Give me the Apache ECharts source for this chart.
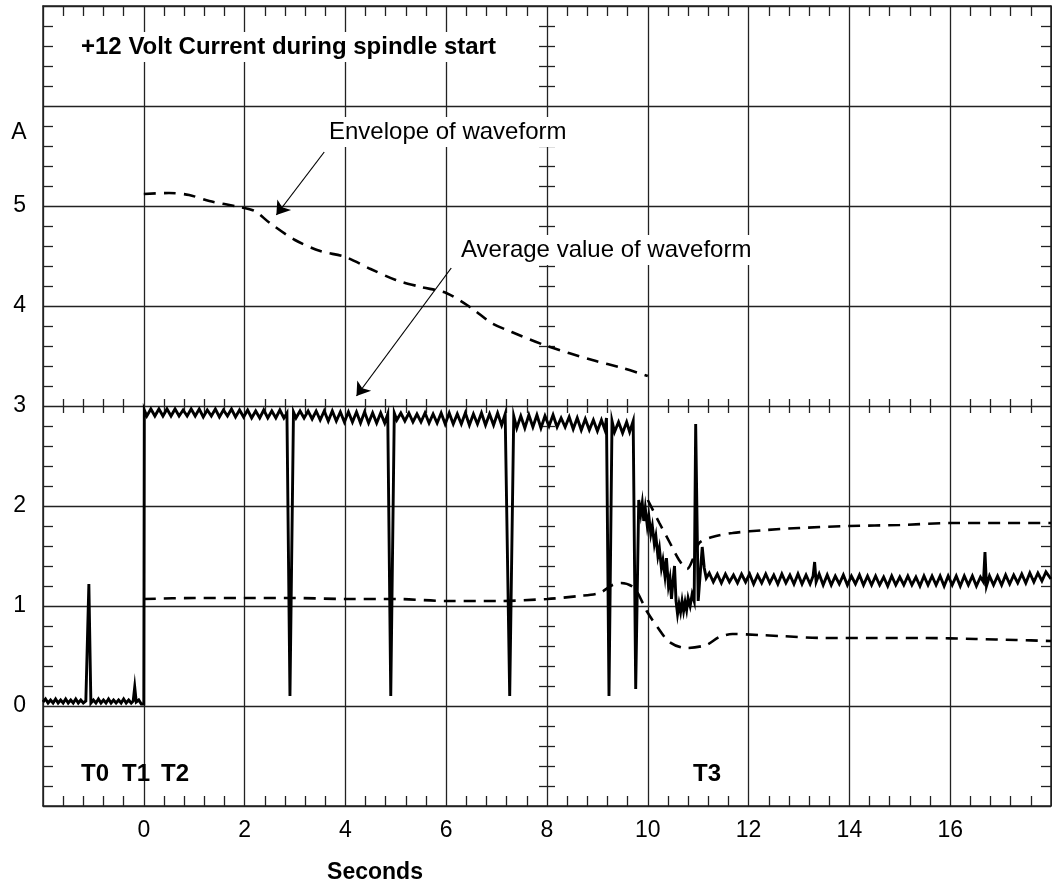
<!DOCTYPE html>
<html>
<head>
<meta charset="utf-8">
<script src="https://cdn.jsdelivr.net/npm/echarts@6/dist/echarts.min.js"></script>
<style>
html,body{margin:0;padding:0;background:#fff;}
#chart{width:1052px;height:884px;}
</style>
</head>
<body>
<div id="chart"></div>
<script>
// ---- Data (seconds, amperes) ----
const preStart = [[-2.00,0.04],[-1.95,0.07],[-1.90,0.03],[-1.85,0.06],[-1.80,0.03],[-1.75,0.07],[-1.70,0.03],[-1.65,0.06],[-1.60,0.03],[-1.55,0.07],[-1.50,0.03],[-1.45,0.06],[-1.40,0.03],[-1.35,0.07],[-1.30,0.03],[-1.25,0.06],[-1.20,0.03],[-1.15,0.05],[-1.12,0.04],[-1.09,1.22],[-1.05,0.03],[-1.00,0.06],[-0.95,0.03],[-0.90,0.07],[-0.85,0.03],[-0.80,0.06],[-0.75,0.03],[-0.70,0.07],[-0.65,0.03],[-0.60,0.06],[-0.55,0.03],[-0.50,0.06],[-0.45,0.03],[-0.40,0.07],[-0.35,0.03],[-0.30,0.06],[-0.25,0.03],[-0.21,0.05],[-0.18,0.19],[-0.15,0.04],[-0.10,0.06],[-0.05,0.02],[0.00,0.02]];
const run1 = [[0.01,2.96],[0.06,2.90],[0.14,2.97],[0.22,2.90],[0.30,2.97],[0.38,2.90],[0.46,2.97],[0.54,2.90],[0.62,2.97],[0.70,2.90],[0.78,2.96],[0.86,2.90],[0.94,2.97],[1.02,2.90],[1.10,2.97],[1.18,2.89],[1.26,2.96],[1.34,2.90],[1.42,2.97],[1.50,2.89],[1.58,2.96],[1.66,2.90],[1.74,2.97],[1.82,2.89],[1.90,2.96],[1.98,2.89],[2.06,2.96],[2.14,2.88],[2.22,2.95],[2.30,2.88],[2.38,2.96],[2.46,2.88],[2.54,2.95],[2.62,2.88],[2.70,2.96],[2.78,2.88],[2.84,2.93],[2.90,0.10],[2.97,2.94]];
const run2 = [[3.02,2.88],[3.10,2.95],[3.18,2.88],[3.26,2.95],[3.34,2.87],[3.42,2.95],[3.50,2.86],[3.58,2.95],[3.66,2.85],[3.74,2.95],[3.82,2.85],[3.90,2.94],[3.98,2.84],[4.06,2.94],[4.14,2.84],[4.22,2.94],[4.30,2.83],[4.38,2.94],[4.46,2.83],[4.54,2.93],[4.62,2.83],[4.70,2.93],[4.78,2.83],[4.84,2.92],[4.90,0.10],[4.97,2.93]];
const run3 = [[5.02,2.86],[5.10,2.93],[5.18,2.85],[5.26,2.93],[5.34,2.84],[5.42,2.92],[5.50,2.84],[5.58,2.93],[5.66,2.83],[5.74,2.92],[5.82,2.83],[5.90,2.93],[5.98,2.82],[6.06,2.93],[6.14,2.82],[6.22,2.92],[6.30,2.82],[6.38,2.93],[6.46,2.81],[6.54,2.92],[6.62,2.82],[6.70,2.93],[6.78,2.81],[6.86,2.92],[6.94,2.81],[7.02,2.93],[7.10,2.81],[7.17,2.92],[7.26,0.10],[7.34,2.90]];
const run4 = [[7.40,2.78],[7.48,2.90],[7.56,2.78],[7.64,2.91],[7.72,2.79],[7.80,2.91],[7.88,2.78],[7.96,2.90],[8.04,2.80],[8.12,2.91],[8.20,2.79],[8.28,2.88],[8.36,2.79],[8.44,2.89],[8.52,2.77],[8.60,2.88],[8.68,2.76],[8.76,2.87],[8.84,2.76],[8.92,2.86],[9.00,2.75],[9.08,2.86],[9.15,2.76],[9.18,2.88],[9.23,0.10],[9.29,2.85]];
const run5 = [[9.34,2.74],[9.42,2.84],[9.50,2.73],[9.58,2.84],[9.64,2.74],[9.71,2.85],[9.76,0.17],[9.82,2.06]];
const transient = [[9.86,1.92],[9.89,2.03],[9.92,1.85],[9.95,1.98],[9.99,1.80],[10.02,1.90],[10.06,1.72],[10.09,1.80],[10.13,1.62],[10.16,1.70],[10.20,1.50],[10.23,1.58],[10.27,1.38],[10.30,1.46],[10.34,1.30],[10.37,1.48],[10.41,1.20],[10.44,1.28],[10.47,1.07],[10.50,1.25],[10.53,1.40],[10.56,1.05],[10.59,0.92],[10.62,1.02],[10.65,0.94],[10.68,1.05],[10.71,0.95],[10.74,1.04],[10.77,0.96],[10.80,1.08],[10.84,1.00],[10.88,1.12],[10.92,1.05],[10.95,2.82],[11.00,1.05],[11.03,1.03],[11.08,1.59],[11.12,1.38]];
const tail = [[11.16,1.28],[11.22,1.33],[11.30,1.24],[11.38,1.32],[11.46,1.23],[11.54,1.32],[11.62,1.24],[11.70,1.31],[11.78,1.23],[11.86,1.32],[11.94,1.24],[12.02,1.32],[12.10,1.22],[12.18,1.31],[12.26,1.23],[12.34,1.32],[12.42,1.23],[12.50,1.31],[12.58,1.22],[12.66,1.32],[12.74,1.23],[12.82,1.31],[12.90,1.22],[12.98,1.32],[13.06,1.22],[13.14,1.31],[13.22,1.22],[13.28,1.30],[13.31,1.44],[13.34,1.24],[13.40,1.32],[13.48,1.21],[13.56,1.31],[13.64,1.21],[13.72,1.30],[13.80,1.22],[13.88,1.31],[13.96,1.21],[14.04,1.30],[14.12,1.22],[14.20,1.31],[14.28,1.21],[14.36,1.30],[14.44,1.21],[14.52,1.30],[14.60,1.21],[14.68,1.29],[14.76,1.20],[14.84,1.30],[14.92,1.21],[15.00,1.29],[15.08,1.21],[15.16,1.30],[15.24,1.21],[15.32,1.29],[15.40,1.20],[15.48,1.30],[15.56,1.21],[15.64,1.30],[15.72,1.21],[15.80,1.30],[15.88,1.20],[15.96,1.30],[16.04,1.21],[16.12,1.30],[16.20,1.20],[16.28,1.30],[16.36,1.21],[16.44,1.30],[16.52,1.20],[16.60,1.29],[16.66,1.24],[16.69,1.54],[16.72,1.20],[16.78,1.30],[16.86,1.21],[16.94,1.30],[17.02,1.21],[17.10,1.31],[17.18,1.22],[17.26,1.31],[17.34,1.23],[17.42,1.32],[17.50,1.23],[17.58,1.33],[17.66,1.24],[17.74,1.33],[17.82,1.25],[17.90,1.34],[18.00,1.27]];

const envelopeTop = [[0.0,5.12],[0.5,5.13],[0.9,5.11],[1.3,5.05],[1.9,4.99],[2.2,4.95],[2.5,4.83],[3.0,4.66],[3.5,4.55],[4.0,4.49],[4.5,4.37],[5.0,4.26],[5.5,4.19],[6.0,4.13],[6.5,3.98],[6.9,3.83],[7.3,3.74],[8.0,3.60],[8.9,3.46],[9.5,3.38],[10.0,3.30]];
const averageLine = [[0.0,1.07],[1.0,1.08],[2.0,1.08],[3.0,1.08],[4.0,1.07],[5.0,1.07],[6.0,1.05],[7.0,1.05],[8.0,1.07],[8.64,1.10],[9.04,1.13],[9.3,1.21],[9.47,1.23],[9.73,1.18],[9.99,0.94],[10.19,0.79],[10.43,0.64],[10.76,0.58],[11.16,0.61],[11.42,0.69],[11.68,0.72],[12.21,0.71],[12.61,0.70],[13.5,0.68],[14.5,0.68],[15.5,0.68],[16.5,0.67],[17.3,0.66],[18.0,0.65]];
const envelopeAfter = [[10.0,2.06],[10.23,1.83],[10.43,1.64],[10.62,1.46],[10.78,1.37],[10.92,1.50],[11.02,1.63],[11.28,1.69],[11.68,1.73],[12.35,1.76],[13.0,1.78],[14.0,1.80],[15.0,1.81],[16.0,1.83],[17.0,1.83],[18.0,1.83]];

// annotation arrows: [from, to] in (seconds, amperes)
const arrowLines = [
  [[3.58, 5.54], [2.63, 4.91]],
  [[6.10, 4.38], [4.22, 3.10]]
];

const xTicks = {min: -2, max: 18, step: 2};
const yTicks = {min: -1, max: 7, step: 1};
const yLabelValues = [0, 1, 2, 3, 4, 5];

const current = [].concat(preStart, run1, run2, run3, run4, run5, transient, tail);

// ---- Chart ----
const FONT = '"Liberation Sans", Arial, Helvetica, sans-serif';
const INK = '#222';
const chart = echarts.init(document.getElementById('chart'), null, {renderer: 'canvas'});

function xAx(extra) {
  return Object.assign({
    type: 'value', min: xTicks.min, max: xTicks.max, interval: xTicks.step,
    axisLine: {show: true, onZero: false, lineStyle: {color: INK, width: 1.5}},
    axisTick: {show: false, inside: true},
    axisLabel: {show: false},
    splitLine: {show: false},
    minorTick: {show: true, splitNumber: 5, length: 10, lineStyle: {color: INK, width: 1.3}},
    minorSplitLine: {show: false}
  }, extra);
}
function yAx(extra) {
  return Object.assign({
    type: 'value', min: yTicks.min, max: yTicks.max, interval: yTicks.step,
    axisLine: {show: true, onZero: false, lineStyle: {color: INK, width: 1.5}},
    axisTick: {show: false, inside: true},
    axisLabel: {show: false},
    splitLine: {show: false},
    minorTick: {show: true, splitNumber: 5, length: 10, lineStyle: {color: INK, width: 1.3}},
    minorSplitLine: {show: false}
  }, extra);
}

const dashed = {color: '#000', width: 2.6, type: [12, 8]};

const option = {
  animation: false,
  backgroundColor: '#fff',
  grid: {left: 43, right: 1, top: 6, bottom: 78, containLabel: false},
  xAxis: [
    xAx({position: 'bottom',
      axisLabel: {show: true, showMinLabel: false, showMaxLabel: false, margin: 13,
        fontSize: 23, color: '#000', fontFamily: FONT},
      splitLine: {show: true, lineStyle: {color: INK, width: 1.3}}}),
    xAx({position: 'top'}),
    xAx({position: 'bottom', offset: -400, axisLine: {show: false, onZero: false}, minorTick: {show: true, splitNumber: 5, length: 7, lineStyle: {color: INK, width: 1.3}}}),
    xAx({position: 'bottom', offset: -400, axisLine: {show: false, onZero: false}, axisTick: {show: false, inside: false}, minorTick: {show: true, splitNumber: 5, length: 7, lineStyle: {color: INK, width: 1.3}}})
  ],
  yAxis: [
    yAx({position: 'left',
      axisLabel: {show: true, margin: 17, fontSize: 23, color: '#000', fontFamily: FONT,
        formatter: v => (yLabelValues.indexOf(v) >= 0 ? String(v) : '')},
      splitLine: {show: true, lineStyle: {color: INK, width: 1.3}}}),
    yAx({position: 'right'}),
    yAx({position: 'left', offset: -504, axisLine: {show: false, onZero: false}, minorTick: {show: true, splitNumber: 5, length: 8, lineStyle: {color: INK, width: 1.3}}}),
    yAx({position: 'left', offset: -504, axisLine: {show: false, onZero: false}, axisTick: {show: false, inside: false}, minorTick: {show: true, splitNumber: 5, length: 8, lineStyle: {color: INK, width: 1.3}}})
  ],
  series: [
    {type: 'line', name: 'Envelope', data: envelopeTop, xAxisIndex: 0, yAxisIndex: 0,
      showSymbol: false, smooth: 0.3, lineStyle: dashed, z: 3},
    {type: 'line', name: 'Average', data: averageLine, xAxisIndex: 0, yAxisIndex: 0,
      showSymbol: false, smooth: 0.3, lineStyle: dashed, z: 3},
    {type: 'line', name: 'Envelope after T3', data: envelopeAfter, xAxisIndex: 0, yAxisIndex: 0,
      showSymbol: false, smooth: 0.3, lineStyle: dashed, z: 3},
    {type: 'line', name: 'Current', data: current, xAxisIndex: 0, yAxisIndex: 0,
      showSymbol: false, lineStyle: {color: '#000', width: 2.9, join: 'miter'}, z: 4},
    {type: 'lines', name: 'Arrows', coordinateSystem: 'cartesian2d', xAxisIndex: 0, yAxisIndex: 0,
      symbol: ['none', 'arrow'], symbolSize: 13, z: 5, silent: true,
      itemStyle: {color: '#000'},
      lineStyle: {color: '#000', width: 1.2, opacity: 1, curveness: 0},
      data: arrowLines.map(a => ({coords: a}))}
  ],
  graphic: [
    {type: 'text', x: 77, y: 47, z: 100,
      style: {text: '+12 Volt Current during spindle start', font: 'bold 24px ' + FONT, fill: '#000',
        verticalAlign: 'middle', backgroundColor: '#fff', padding: [3, 4]}},
    {type: 'text', x: 326, y: 132, z: 100,
      style: {text: 'Envelope of waveform', font: '24px ' + FONT, fill: '#000',
        verticalAlign: 'middle', backgroundColor: '#fff', padding: [3, 3]}},
    {type: 'text', x: 458, y: 250, z: 100,
      style: {text: 'Average value of waveform', font: '24px ' + FONT, fill: '#000',
        verticalAlign: 'middle', backgroundColor: '#fff', padding: [3, 3]}},
    {type: 'text', x: 19, y: 133, z: 100,
      style: {text: 'A', font: '23px ' + FONT, fill: '#000', align: 'center', verticalAlign: 'middle'}},
    {type: 'text', x: 81, y: 774, z: 100,
      style: {text: 'T0', font: 'bold 24px ' + FONT, fill: '#000', verticalAlign: 'middle'}},
    {type: 'text', x: 122, y: 774, z: 100,
      style: {text: 'T1', font: 'bold 24px ' + FONT, fill: '#000', verticalAlign: 'middle'}},
    {type: 'text', x: 161, y: 774, z: 100,
      style: {text: 'T2', font: 'bold 24px ' + FONT, fill: '#000', verticalAlign: 'middle'}},
    {type: 'text', x: 693, y: 774, z: 100,
      style: {text: 'T3', font: 'bold 24px ' + FONT, fill: '#000', verticalAlign: 'middle'}},
    {type: 'text', x: 375, y: 873, z: 100,
      style: {text: 'Seconds', font: 'bold 23px ' + FONT, fill: '#000', align: 'center', verticalAlign: 'middle'}}
  ]
};
chart.setOption(option);
</script>
</body>
</html>
